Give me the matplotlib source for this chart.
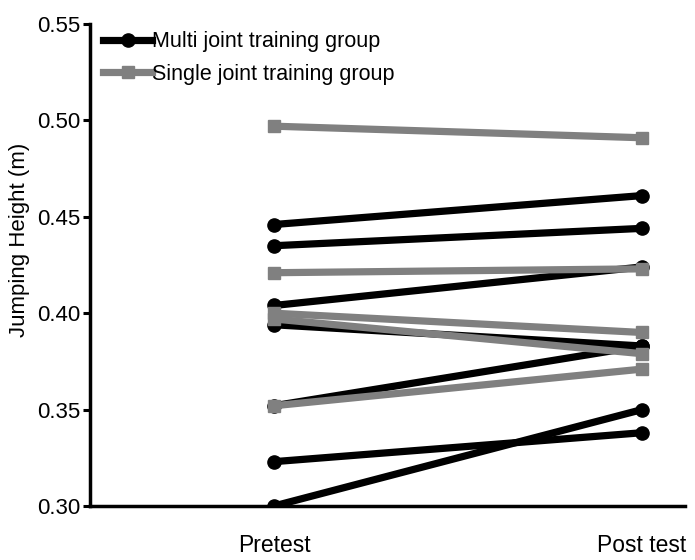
import numpy as np
import matplotlib
matplotlib.use('Agg')
import matplotlib.pyplot as plt

plt.rcParams['font.family'] = ['Liberation Sans', 'DejaVu Sans']

phases = ["Pretest", "Post test"]
multi_pre = [0.446, 0.435, 0.404, 0.394, 0.352, 0.323, 0.300]
multi_post = [0.461, 0.444, 0.424, 0.383, 0.383, 0.338, 0.350]
single_pre = [0.497, 0.421, 0.400, 0.397, 0.352]
single_post = [0.491, 0.423, 0.390, 0.379, 0.371]
yticks = [0.30, 0.35, 0.40, 0.45, 0.50, 0.55]

fig = plt.figure(figsize=(6.95, 5.6), dpi=100)
ax = fig.add_axes([90/695, 54/560, 595/695, 482/560])

x = [0, 1]
for i in range(len(multi_pre)):
    ax.plot(x, [multi_pre[i], multi_post[i]], color='black', lw=5.2, marker='o',
            ms=9.5, label='Multi joint training group' if i == 0 else None, zorder=2)
for i in range(len(single_pre)):
    ax.plot(x, [single_pre[i], single_post[i]], color='#808080', lw=5.2, marker='s',
            ms=9, label='Single joint training group' if i == 0 else None, zorder=3)

ax.set_xlim(-0.5, 1.117)
ax.set_ylim(0.30, 0.55)
ax.set_yticks(yticks)
ax.set_yticklabels(['%.2f' % t for t in yticks], fontsize=16)
ax.set_xticks(x)
ax.set_xticklabels(phases, fontsize=16.5)
ax.tick_params(axis='x', length=0, pad=20)
ax.tick_params(axis='y', length=5, width=2.2, pad=2)
ax.set_ylabel('Jumping Height (m)', fontsize=16)
ax.yaxis.set_label_coords(-0.1, 0.552)

for s in ['top', 'right']:
    ax.spines[s].set_visible(False)
for s in ['left', 'bottom']:
    ax.spines[s].set_linewidth(2.5)

ax.legend(loc='upper left', bbox_to_anchor=(0.0, 1.012), frameon=False, fontsize=15.5,
          handlelength=2.3, handletextpad=0.0, borderaxespad=0.2, labelspacing=0.55)

plt.savefig('out.png', dpi=100)
